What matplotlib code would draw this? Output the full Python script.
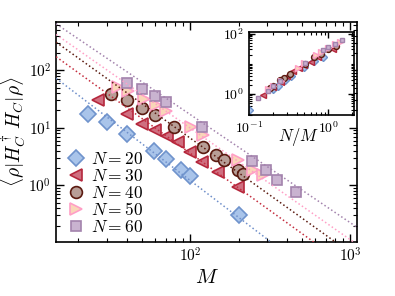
import numpy as np
import matplotlib as mpl
mpl.use('Agg')
import matplotlib.pyplot as plt
from matplotlib import ticker

plt.rcParams['mathtext.fontset'] = 'cm'
plt.rcParams['font.family'] = 'serif'
plt.rcParams['font.serif'] = ['DejaVu Serif']

# data
Ns = [20, 30, 40, 50, 60]

M_20 = [23, 30, 40, 59, 70, 87, 100, 200]
E_20 = [17.2, 12.6, 7.9, 3.9, 2.83, 1.82, 1.43, 0.30]

M_30 = [26.5, 40, 50, 60, 71, 84, 99, 118, 149, 199]
E_30 = [30.1, 17.2, 11.8, 9.05, 7.1, 5.67, 3.8, 2.54, 1.70, 0.93]

M_40 = [32, 40, 50, 60, 79, 120, 145, 162, 199, 214]
E_40 = [39.3, 30.1, 21.6, 16.5, 10.1, 4.6, 3.3, 2.8, 1.82, 1.6]

M_50 = [35.3, 40.8, 51, 61.3, 70.8, 101, 120, 199, 246, 285]
E_50 = [51.2, 43.6, 32.2, 24.6, 19.6, 10.3, 7.4, 2.72, 1.82, 1.49]

M_60 = [40.2, 50.1, 59.8, 70.2, 118, 244, 296, 348, 460]
E_60 = [60.1, 46.2, 35.3, 28.1, 10.3, 2.65, 1.82, 1.26, 0.76]

Ms = [M_20, M_30, M_40, M_50, M_60]
Es = [E_20, E_30, E_40, E_50, E_60]

# power-law guide lines  E = 10**logA * M**slope
fit_logA = [4.322, 4.556, 4.798, 4.873, 4.988]
fit_slope = [-2.12, -2.0, -1.99, -1.94, -1.88]

markers = ['D', '<', 'o', '>', 's']
msizes = [8, 9, 8.5, 9, 6.5]
faces = ['#a9c4ea', '#cf6f80', '#b89e97', '#f9d6b8', '#c9b3d0']
edges = ['#6f93cc', '#b5283d', '#5b1a10', '#ff9fc6', '#a383ad']
lines = ['#6f8fca', '#c42e3f', '#5b1a10', '#ff9fc6', '#a383ad']

xlim = (14.5, 1100)
ylim = (0.103, 690)

fig = plt.figure(figsize=(3.95, 2.96), dpi=100)
ax = fig.add_axes([0.142, 0.182, 0.762, 0.744])

def tick_style(a, size):
    a.set_xscale('log')
    a.set_yscale('log')
    a.tick_params(which='both', direction='in', top=True, right=True, labelsize=size)
    a.tick_params(which='major', length=6, width=1)
    a.tick_params(which='minor', length=3, width=0.8)
    for s in a.spines.values():
        s.set_linewidth(1.2)
    fmt = ticker.FuncFormatter(lambda v, p: r'$10^{%d}$' % round(np.log10(v)))
    a.xaxis.set_major_formatter(fmt)
    a.yaxis.set_major_formatter(fmt)
    a.xaxis.set_minor_formatter(ticker.NullFormatter())
    a.yaxis.set_minor_formatter(ticker.NullFormatter())

tick_style(ax, 11)
xs = np.array(xlim)
for i in range(len(Ns)):
    ax.plot(Ms[i], Es[i], linestyle='none', marker=markers[i], ms=msizes[i],
            mfc=faces[i], mec=edges[i], mew=1.2, label=r'$N = %d$' % Ns[i], zorder=3)
    ax.plot(xs, 10**fit_logA[i] * xs**fit_slope[i], ls=':', lw=1.1, color=lines[i], zorder=4)

ax.set_xlim(*xlim)
ax.set_ylim(*ylim)
ax.set_xlabel(r'$M$', fontsize=15, labelpad=2)
ax.set_ylabel(r'$\langle \rho | H_C^\dagger\, H_C | \rho \rangle$', fontsize=14, labelpad=0)

ax.legend(loc='lower left', bbox_to_anchor=(-0.018, -0.028), frameon=False, fontsize=12.5,
          handletextpad=0.1, labelspacing=0.0, borderaxespad=0.3, handlelength=1.5)

# inset: same data against N/M
ins = fig.add_axes([0.630, 0.611, 0.266, 0.280])
tick_style(ins, 10)
ins.tick_params(which='major', length=4)
ins.tick_params(which='minor', length=2)
ins.yaxis.set_major_locator(ticker.LogLocator(base=100, numticks=5))
ins.yaxis.set_minor_locator(ticker.LogLocator(base=10, subs=np.arange(1, 10), numticks=20))
for i in range(len(Ns)):
    ins.plot(Ns[i] / np.array(Ms[i]), Es[i], linestyle='none', marker=markers[i],
             ms=msizes[i] * 0.5, mfc=faces[i], mec=edges[i], mew=1.0)
ins.set_xlim(0.1, 2.1)
ins.set_ylim(0.2, 110)
ins.set_xlabel(r'$N/M$', fontsize=12)
ins.xaxis.set_label_coords(0.47, -0.13)

fig.savefig('out.png', dpi=100)
